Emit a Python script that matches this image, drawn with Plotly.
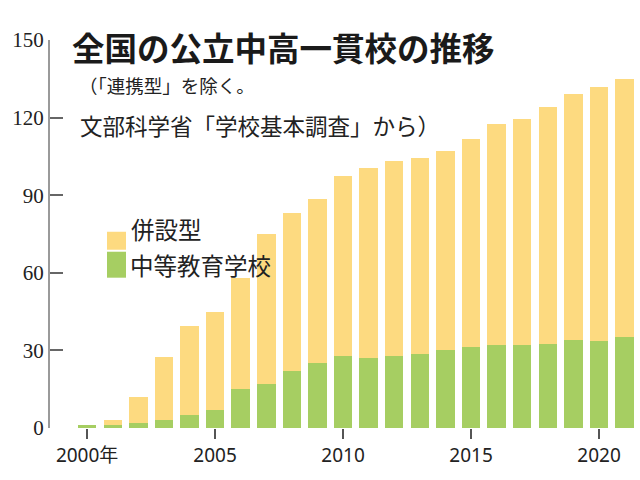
import plotly.graph_objects as go

years = list(range(2000, 2022))
chuto = [1, 1, 2, 3, 5, 7, 15, 17, 22, 25, 28, 27, 28, 28.5, 30, 31.5, 32, 32, 32.5, 34, 33.5, 35]
total = [1, 3, 12, 27.5, 39.5, 45, 58, 75, 83, 88.7, 97.5, 100.4, 103.4, 104.2, 107, 111.8, 117.6, 119.5, 124, 129, 131.7, 134.8]
heisetsu = [t - c for t, c in zip(total, chuto)]

tick_years = [2000, 2005, 2010, 2015, 2020]
tick_text = ["2000年", "2005", "2010", "2015", "2020"]
y_ticks = [0, 30, 60, 90, 120, 150]

title = "全国の公立中高一貫校の推移"
note1 = "（「連携型」を除く。"
note2 = "文部科学省「学校基本調査」から）"
legend_names = ["併設型", "中等教育学校"]

YELLOW = "rgb(253,218,128)"
GREEN = "rgb(166,206,98)"

fig = go.Figure()
fig.add_trace(go.Bar(x=years, y=chuto, marker=dict(color=GREEN, line=dict(width=0)),
                     width=0.72, name=legend_names[1], showlegend=False))
fig.add_trace(go.Bar(x=years, y=heisetsu, marker=dict(color=YELLOW, line=dict(width=0)),
                     width=0.72, name=legend_names[0], showlegend=False))

W, H = 640, 480
L, R, T, B = 50, 0, 40, 51.5
pw, ph = W - L - R, H - T - B

def px(x):
    return (x - L) / pw

def py(y):
    return (H - B - y) / ph

fig.update_layout(
    template="none",
    width=W, height=H, barmode="stack", bargap=0,
    margin=dict(l=L, r=R, t=T, b=B, pad=0, autoexpand=False),
    paper_bgcolor="white", plot_bgcolor="white",
    xaxis=dict(range=[1998.55, 2021.6], tickmode="array", tickvals=tick_years, ticktext=tick_text,
               ticks="outside", ticklen=10, tickwidth=1.5, tickcolor="#555",
               showline=False, showgrid=False, zeroline=False, automargin=False,
               tickfont=dict(family="Noto Sans, Noto Sans CJK JP", size=19, color="#222")),
    yaxis=dict(range=[0, 150], tickmode="array", tickvals=y_ticks, ticks="inside", ticklen=13,
               tickwidth=1.5, tickcolor="#666", showline=True, linecolor="#9a9a9a",
               linewidth=2, showgrid=False, zeroline=False, automargin=False,
               tickfont=dict(family="Liberation Serif, DejaVu Serif, serif", size=21, color="#222")),
    font=dict(family="Noto Sans CJK JP"),
)

fig.add_annotation(text=title, xref="paper", yref="paper", x=px(70), y=py(47),
                   xanchor="left", yanchor="middle", showarrow=False,
                   font=dict(family="Noto Sans CJK JP", size=32.5, color="#1a1a1a", weight="bold"))
fig.add_annotation(text=note1, xref="paper", yref="paper", x=px(77), y=py(85),
                   xanchor="left", yanchor="middle", showarrow=False,
                   font=dict(family="Noto Sans CJK JP", size=18.5, color="#222"))
fig.add_annotation(text=note2, xref="paper", yref="paper", x=px(78), y=py(125),
                   xanchor="left", yanchor="middle", showarrow=False,
                   font=dict(family="Noto Sans CJK JP", size=22.5, color="#222"))

# legend swatches and labels
fig.add_shape(type="rect", xref="paper", yref="paper", x0=px(107), x1=px(126),
              y0=py(250), y1=py(232), fillcolor=YELLOW, line=dict(width=0))
fig.add_shape(type="rect", xref="paper", yref="paper", x0=px(107), x1=px(126),
              y0=py(278), y1=py(252), fillcolor=GREEN, line=dict(width=0))
fig.add_annotation(text=legend_names[0], xref="paper", yref="paper", x=px(129), y=py(229),
                   xanchor="left", yanchor="middle", showarrow=False,
                   font=dict(family="Noto Sans CJK JP", size=23.5, color="#222"))
fig.add_annotation(text=legend_names[1], xref="paper", yref="paper", x=px(128), y=py(265),
                   xanchor="left", yanchor="middle", showarrow=False,
                   font=dict(family="Noto Sans CJK JP", size=23.5, color="#222"))

fig.write_html("out.html", config={"displayModeBar": False},
               post_script="document.body.style.margin='0';document.body.style.overflow='hidden';")
